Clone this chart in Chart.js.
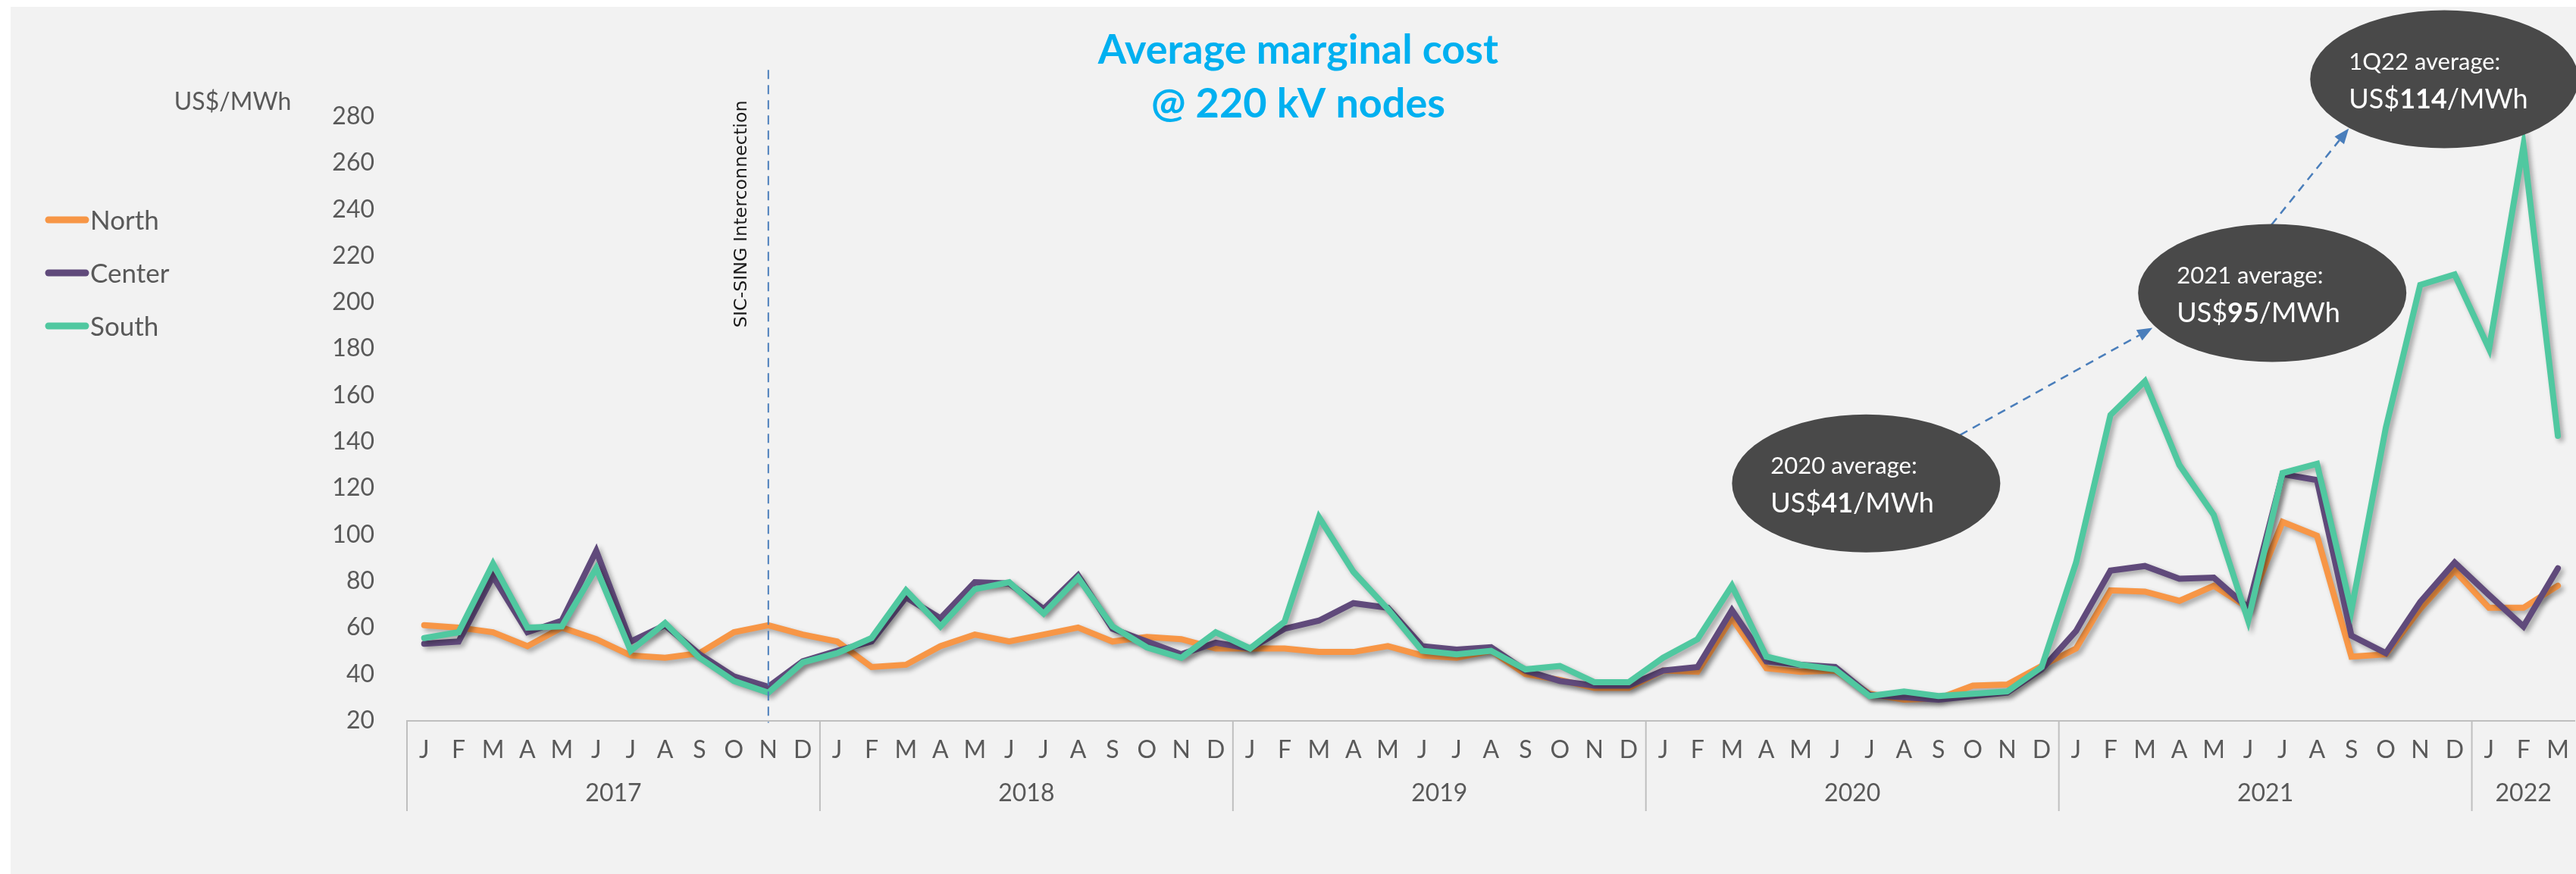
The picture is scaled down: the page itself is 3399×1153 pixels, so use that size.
<!DOCTYPE html>
<html>
<head>
<meta charset="utf-8">
<script src="https://cdn.jsdelivr.net/npm/chart.js@4.4.0/dist/chart.umd.min.js"></script>
<style>
  html, body { margin: 0; padding: 0; overflow: hidden; background: #ffffff; }
  #wrap { position: absolute; left: 0; top: 0; width: 3410px; height: 1153px; }
</style>
</head>
<body>
<div id="wrap"><canvas id="costChart" width="3410" height="1153"></canvas></div>
<script>
// month initials and years for the two-level axis
const months = ['J', 'F', 'M', 'A', 'M', 'J', 'J', 'A', 'S', 'O', 'N', 'D'];
const years = ['2017', '2018', '2019', '2020', '2021', '2022'];
const monthsShown = [12, 12, 12, 12, 12, 3];

// US$/MWh, monthly
const north = [
  61, 60, 58, 52, 60, 55, 48, 47, 49, 58, 61, 57,
  54, 43, 44, 52, 57, 54, 57, 60, 54, 56, 55, 51,
  51, 51, 49.5, 49.5, 52, 48, 47, 50, 40, 37.5, 34, 34,
  41.5, 41, 64, 42.5, 41, 41.5, 31.5, 29, 29.5, 35, 35.5, 43.5,
  51, 76, 75.5, 71.5, 78, 68.5, 105.5, 99.5, 47.5, 48.5, 68, 84.5,
  68.5, 68.5, 78
];
const center = [
  53, 54, 82, 58, 63, 93, 54, 61, 48.5, 39, 34.5, 45.5,
  50, 54, 73, 64, 79.5, 79, 68, 82.5, 59.5, 54, 48.5, 53.5,
  51, 59.5, 63, 70.5, 68.5, 52, 50.5, 51.5, 41.5, 37, 35, 35,
  41.5, 43, 67.5, 45.5, 44, 43, 31, 30, 29, 30.5, 32, 42,
  58.5, 84.5, 86.5, 81, 81.5, 68.5, 126, 123.5, 56.5, 49, 71, 88,
  74, 60.5, 85.5
];
const south = [
  55.5, 58, 87.5, 60, 60.5, 85.5, 50, 62, 47, 37, 32, 45,
  49, 55.5, 76, 60.5, 76.5, 79.5, 66, 81.5, 60.5, 51.5, 47, 58,
  51, 62.5, 107.5, 84, 68, 50, 48.5, 50, 42, 43.5, 36.5, 36.5,
  47, 55, 78, 47.5, 44, 42, 30.5, 32.5, 30.5, 31.5, 32.5, 43,
  88, 151.5, 166, 130, 108.5, 63, 126.5, 130.5, 67.5, 146, 207.5, 212,
  180, 267.5, 142.5
];

const avgLabels = ['2020 average:', '2021 average:', '1Q22 average:'];
const avgValues = [41, 95, 114];
const interconnectionLabel = 'SIC-SING Interconnection';
const interconnectionIndex = 10; // Nov 2017

const labels = [];
years.forEach((yr, k) => {
  for (let m = 0; m < monthsShown[k]; m++) labels.push(months[m]);
});

const FONT = 'Lato, "Noto Sans", sans-serif';
const GREY_TEXT = '#595959';

const panelPlugin = {
  id: 'panel',
  beforeDraw(chart) {
    const ctx = chart.ctx;
    ctx.save();
    ctx.fillStyle = '#ffffff';
    ctx.fillRect(0, 0, chart.width, chart.height);
    ctx.fillStyle = '#f2f2f2';
    ctx.fillRect(14, 9, chart.width - 14, chart.height - 9);
    ctx.restore();
  }
};

const shadowPlugin = {
  id: 'lineShadow',
  beforeDatasetDraw(chart) {
    const ctx = chart.ctx;
    ctx.save();
    ctx.shadowColor = 'rgba(0,0,0,0.32)';
    ctx.shadowBlur = 6;
    ctx.shadowOffsetX = 4;
    ctx.shadowOffsetY = 4;
  },
  afterDatasetDraw(chart) {
    chart.ctx.restore();
  }
};

function drawArrow(ctx, x1, y1, x2, y2) {
  const a = Math.atan2(y2 - y1, x2 - x1);
  const head = 20, half = 8;
  const bx = x2 - head * Math.cos(a), by = y2 - head * Math.sin(a);
  ctx.setLineDash([11, 8]);
  ctx.beginPath();
  ctx.moveTo(x1, y1);
  ctx.lineTo(bx, by);
  ctx.stroke();
  ctx.setLineDash([]);
  ctx.beginPath();
  ctx.moveTo(x2, y2);
  ctx.lineTo(bx + half * Math.sin(a), by - half * Math.cos(a));
  ctx.lineTo(bx - half * Math.sin(a), by + half * Math.cos(a));
  ctx.closePath();
  ctx.fill();
}

const extrasPlugin = {
  id: 'extras',
  afterDatasetsDraw(chart) {
    const ctx = chart.ctx;
    const xs = chart.scales.x, ys = chart.scales.y;

    // interconnection marker
    const lx = xs.getPixelForValue(interconnectionIndex);
    ctx.save();
    ctx.strokeStyle = '#4a7ebb';
    ctx.lineWidth = 2;
    ctx.setLineDash([12, 8]);
    ctx.beginPath();
    ctx.moveTo(lx, ys.getPixelForValue(300));
    ctx.lineTo(lx, ys.bottom + 3);
    ctx.stroke();
    ctx.setLineDash([]);
    ctx.translate(lx - 35, ys.getPixelForValue(238));
    ctx.rotate(-Math.PI / 2);
    ctx.font = '20px "DejaVu Sans", sans-serif';
    const w = ctx.measureText(interconnectionLabel).width;
    ctx.font = (20 * 300 / w).toFixed(1) + 'px "DejaVu Sans", sans-serif';
    ctx.fillStyle = '#1a1a1a';
    ctx.textAlign = 'center';
    ctx.textBaseline = 'middle';
    ctx.fillText(interconnectionLabel, 0, 0);
    ctx.restore();

    // average bubbles, anchored in data space
    const spots = [{ i: 41.9, v: 122 }, { i: 53.7, v: 204 }, { i: 58.7, v: 296 }];
    const c = spots.map(s => ({ x: xs.getPixelForValue(s.i), y: ys.getPixelForValue(s.v) }));

    ctx.save();
    ctx.strokeStyle = '#4a7ebb';
    ctx.fillStyle = '#4a7ebb';
    ctx.lineWidth = 2.5;
    drawArrow(ctx, c[0].x + 124, c[0].y - 64, c[1].x - 158, c[1].y + 46);
    drawArrow(ctx, c[1].x - 1, c[1].y - 90, c[2].x - 126, c[2].y + 65);
    ctx.restore();

    c.forEach((p, k) => {
      ctx.save();
      ctx.fillStyle = '#494949';
      ctx.beginPath();
      ctx.ellipse(p.x, p.y, 177, 91, 0, 0, Math.PI * 2);
      ctx.fill();
      ctx.fillStyle = '#ffffff';
      ctx.textAlign = 'left';
      ctx.textBaseline = 'middle';
      const tx = p.x - 126;
      ctx.font = '31px ' + FONT;
      ctx.fillText(avgLabels[k], tx, p.y - 23);
      ctx.font = '36px ' + FONT;
      ctx.fillText('US$', tx, p.y + 27);
      let off = ctx.measureText('US$').width;
      ctx.font = 'bold 36px ' + FONT;
      ctx.fillText(String(avgValues[k]), tx + off, p.y + 27);
      off += ctx.measureText(String(avgValues[k])).width;
      ctx.font = '36px ' + FONT;
      ctx.fillText('/MWh', tx + off, p.y + 27);
      ctx.restore();
    });
  },
  afterDraw(chart) {
    const ctx = chart.ctx;
    const xs = chart.scales.x;
    const band = (xs.right - xs.left) / labels.length;

    // year groups under the month initials
    ctx.save();
    ctx.strokeStyle = '#bfbfbf';
    ctx.lineWidth = 2;
    ctx.fillStyle = GREY_TEXT;
    ctx.font = '32px ' + FONT;
    ctx.textAlign = 'center';
    ctx.textBaseline = 'middle';
    let start = 0;
    years.forEach((yr, k) => {
      const left = xs.left + start * band;
      ctx.beginPath();
      ctx.moveTo(left, xs.top);
      ctx.lineTo(left, 1070);
      ctx.stroke();
      ctx.fillText(yr, left + monthsShown[k] * band / 2, 1047);
      start += monthsShown[k];
    });
    ctx.restore();

    // title
    ctx.save();
    ctx.fillStyle = '#00b0f0';
    ctx.font = 'bold 54px ' + FONT;
    ctx.textAlign = 'center';
    ctx.textBaseline = 'middle';
    ctx.fillText('Average marginal cost', 1713, 67);
    ctx.fillText('@ 220 kV nodes', 1713, 138);

    // unit
    ctx.fillStyle = GREY_TEXT;
    ctx.font = '32px ' + FONT;
    ctx.fillText('US$/MWh', 307, 135);

    // legend
    ctx.textAlign = 'left';
    ctx.font = '35px ' + FONT;
    ctx.lineCap = 'round';
    chart.data.datasets.forEach((ds, k) => {
      const ly = 290 + k * 70;
      ctx.strokeStyle = ds.borderColor;
      ctx.lineWidth = 9;
      ctx.beginPath();
      ctx.moveTo(64, ly);
      ctx.lineTo(113, ly);
      ctx.stroke();
      ctx.fillStyle = GREY_TEXT;
      ctx.fillText(ds.label, 119, ly + 2);
    });
    ctx.restore();
  }
};

new Chart(document.getElementById('costChart'), {
  type: 'line',
  data: {
    labels: labels,
    datasets: [
      { label: 'North', data: north, borderColor: '#f79646', order: 2 },
      { label: 'Center', data: center, borderColor: '#604a7b', order: 1 },
      { label: 'South', data: south, borderColor: '#50c8a0', order: 0 }
    ]
  },
  options: {
    responsive: false,
    devicePixelRatio: 1,
    animation: false,
    layout: { padding: { left: 0, right: 7, top: 153.6, bottom: 0 } },
    elements: {
      line: { borderWidth: 8, tension: 0, borderCapStyle: 'round', borderJoinStyle: 'miter', fill: false },
      point: { radius: 0, hoverRadius: 0 }
    },
    scales: {
      x: {
        offset: true,
        grid: { display: false, drawTicks: false },
        border: { display: true, color: '#bfbfbf', width: 2 },
        ticks: {
          autoSkip: false,
          maxRotation: 0,
          minRotation: 0,
          padding: 20,
          color: GREY_TEXT,
          font: { family: FONT, size: 32 }
        },
        afterFit(scale) { scale.height = 202.5; }
      },
      y: {
        min: 20,
        max: 280,
        grid: { display: false, drawTicks: false },
        border: { display: false },
        ticks: {
          stepSize: 20,
          padding: 43,
          color: GREY_TEXT,
          font: { family: FONT, size: 32 }
        },
        afterFit(scale) { scale.width = 537; }
      }
    },
    plugins: {
      legend: { display: false },
      tooltip: { enabled: false },
      title: { display: false }
    }
  },
  plugins: [panelPlugin, shadowPlugin, extrasPlugin]
});
</script>
</body>
</html>
